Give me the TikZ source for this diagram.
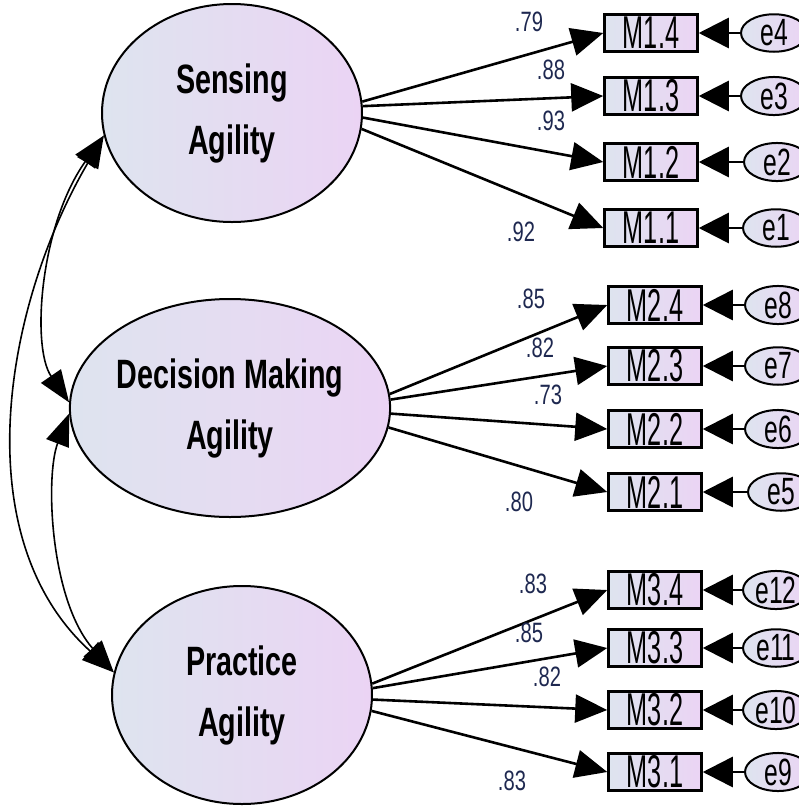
\documentclass[tikz,border=0pt]{standalone}
\usepackage{fontspec}
\newfontfamily\latfont[FakeStretch=0.70]{Liberation Sans}
\newfontfamily\obsfont[FakeStretch=0.55]{Liberation Sans}
\newfontfamily\errfont[FakeStretch=0.65]{Liberation Sans}
\newfontfamily\coeffont[FakeStretch=0.72]{Liberation Sans}
\usetikzlibrary{arrows.meta,shapes.geometric}
\definecolor{fillL}{RGB}{222,228,239}
\definecolor{fillR}{RGB}{235,212,244}
\definecolor{coefcol}{RGB}{30,40,80}

\begin{document}
\begin{tikzpicture}[x=1pt,y=-1pt,
  latent/.style={ellipse,draw,line width=2pt,minimum width=260pt,minimum height=218pt,
    inner sep=0pt,left color=fillL,right color=fillR,align=center,
    font=\latfont\bfseries\fontsize{41}{61}\selectfont},
  obs/.style={rectangle,draw,line width=2.5pt,minimum width=93pt,minimum height=37pt,
    inner sep=0pt,left color=fillL,right color=fillR,font=\obsfont\fontsize{46}{46}\selectfont},
  errvar/.style={ellipse,draw,line width=2pt,minimum width=66pt,minimum height=35pt,
    inner sep=0pt,left color=fillL,right color=fillR,font=\errfont\fontsize{38}{38}\selectfont},
  coef/.style={inner sep=0pt,text=coefcol,font=\coeffont\fontsize{28}{28}\selectfont},
  loading/.style={line width=2.6pt,-{Triangle[length=32pt,width=28pt]}},
  errarrow/.style={line width=2.6pt,-{Triangle[length=30pt,width=30pt]}},
  covar/.style={line width=1.6pt,{Triangle[length=32pt,width=24pt]}-{Triangle[length=32pt,width=24pt]}}]
  \path[use as bounding box] (0,0) rectangle (799,807);

	% Latentes
	\node[latent] (sens) at (232,113) {Sensing\\Agility};
	\node[latent] (dec) at (230,408) {Decision Making\\Agility};
	\node[latent] (prac) at (242,695) {Practice\\Agility};

	% Indicadores
	\node[obs] (m14) at (651,33) {M1.4};
	\node[obs] (m13) at (651,96) {M1.3};
	\node[obs] (m12) at (651,162) {M1.2};
	\node[obs] (m11) at (651,228) {M1.1};
	\node[obs] (m24) at (655,305) {M2.4};
	\node[obs] (m23) at (655,366) {M2.3};
	\node[obs] (m22) at (655,429) {M2.2};
	\node[obs] (m21) at (655,492) {M2.1};
	\node[obs] (m34) at (655,590) {M3.4};
	\node[obs] (m33) at (655,648) {M3.3};
	\node[obs] (m32) at (655,710) {M3.2};
	\node[obs] (m31) at (655,772) {M3.1};

	% Errores
	\node[errvar] (e4) at (774,33) {e4};
	\node[errvar] (e3) at (774,96) {e3};
	\node[errvar] (e2) at (777,162) {e2};
	\node[errvar] (e1) at (776,228) {e1};
	\node[errvar] (e8) at (778,305) {e8};
	\node[errvar] (e7) at (778,366) {e7};
	\node[errvar] (e6) at (778,429) {e6};
	\node[errvar] (e5) at (781,492) {e5};
	\node[errvar] (e12) at (776,590) {e12};
	\node[errvar] (e11) at (776,648) {e11};
	\node[errvar] (e10) at (776,710) {e10};
	\node[errvar] (e9) at (778,772) {e9};

	% Cargas
	\draw[loading] (sens.5) -- (m14.west);
	\draw[loading] (sens.3) -- (m13.west);
	\draw[loading] (sens.-2) -- (m12.west);
	\draw[loading] (sens.-7) -- (m11.west);
	\draw[loading] (dec.5) -- (m24.west);
	\draw[loading] (dec.3) -- (m23.west);
	\draw[loading] (dec.-2) -- (m22.west);
	\draw[loading] (dec.-7) -- (m21.west);
	\draw[loading] (prac.5) -- (m34.west);
	\draw[loading] (prac.3) -- (m33.west);
	\draw[loading] (prac.-2) -- (m32.west);
	\draw[loading] (prac.-7) -- (m31.west);

	\node[coef] (c14) at (529,22) {.79};
	\node[coef] (c13) at (551,70) {.88};
	\node[coef] (c12) at (551,121) {.93};
	\node[coef] (c11) at (521,232) {.92};
	\node[coef] (c24) at (531,299) {.85};
	\node[coef] (c23) at (540,348) {.82};
	\node[coef] (c22) at (548,395) {.73};
	\node[coef] (c21) at (519,502) {.80};
	\node[coef] (c34) at (533,584) {.83};
	\node[coef] (c33) at (529,633) {.85};
	\node[coef] (c32) at (547,677) {.82};
	\node[coef] (c31) at (512,781) {.83};

	% Flechas de error
	\draw[errarrow] (e4) -- (m14);
	\draw[errarrow] (e3) -- (m13);
	\draw[errarrow] (e2) -- (m12);
	\draw[errarrow] (e1) -- (m11);
	\draw[errarrow] (e8) -- (m24);
	\draw[errarrow] (e7) -- (m23);
	\draw[errarrow] (e6) -- (m22);
	\draw[errarrow] (e5) -- (m21);
	\draw[errarrow] (e12) -- (m34);
	\draw[errarrow] (e11) -- (m33);
	\draw[errarrow] (e10) -- (m32);
	\draw[errarrow] (e9) -- (m31);

	% Covarianzas
	\draw[covar] (sens.190) .. controls (40,225) and (31,347) .. (dec.178);
	\draw[covar] (sens.190) .. controls (3,308) and (-35,538) .. (prac.170);
	\draw[covar] (dec.182) .. controls (45,476) and (50,600) .. (prac.170);
\end{tikzpicture}
\end{document}
